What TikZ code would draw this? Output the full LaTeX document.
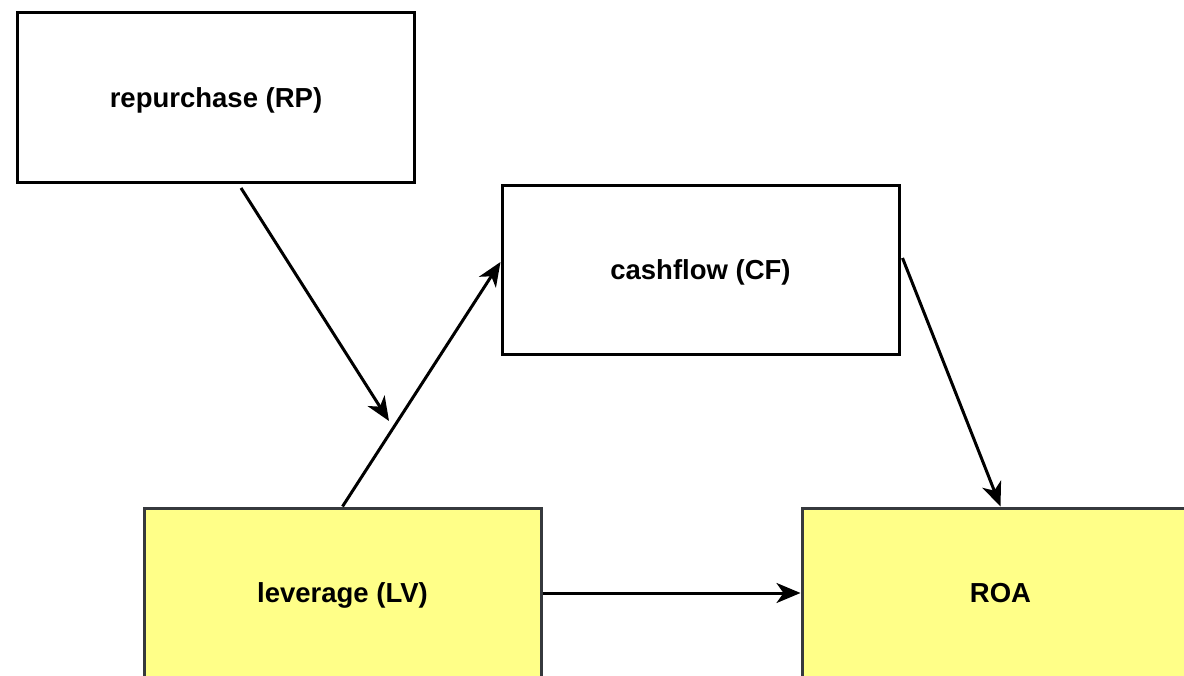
\documentclass[tikz,border=0pt]{standalone}
\usepackage{fontspec}
\setmainfont{Liberation Sans}
\usetikzlibrary{arrows.meta,calc}
\definecolor{noteyellow}{HTML}{FFFF88}
\definecolor{noteborder}{HTML}{36393D}
\tikzset{
  varbox/.style={draw=black, line width=3pt, fill=white, rectangle,
    minimum width=397pt, minimum height=170pt, inner sep=0pt,
    text height=25pt, text depth=5.3pt,
    font=\fontsize{27.5}{33}\selectfont\bfseries},
  outbox/.style={varbox, draw=noteborder, fill=noteyellow},
  link/.style={line width=3pt, -{Stealth[length=24pt,width=20pt,inset=7pt]}}
}
\begin{document}
\begin{tikzpicture}[x=1pt,y=-1pt]
  \useasboundingbox (0,0) rectangle (1184,676);
  \clip (0,0) rectangle (1184,676);
  \fill[white] (0,0) rectangle (1184,676);
  % variables
  \node[varbox] (RP) at (216,97.5) {repurchase (RP)};
  \node[varbox, minimum height=169pt] (CF) at (700.5,270) {cashflow (CF)};
  \node[outbox] (LV) at (342.5,593) {leverage (LV)};
  \node[outbox] (ROA) at (1000.5,593) {ROA};
  % moderating effect ends on the LV -> CF path
  \coordinate (mod) at (389,421);
  \draw[link] ($(RP.south)+(25,4)$) -- (mod);
  \draw[link] (LV.north) -- ($(CF.west)+(0,-8)$);
  \draw[link] ($(CF.east)+(2,-12)$) -- (ROA.north);
  \draw[link] (LV.east) -- (ROA.west);
\end{tikzpicture}
\end{document}
